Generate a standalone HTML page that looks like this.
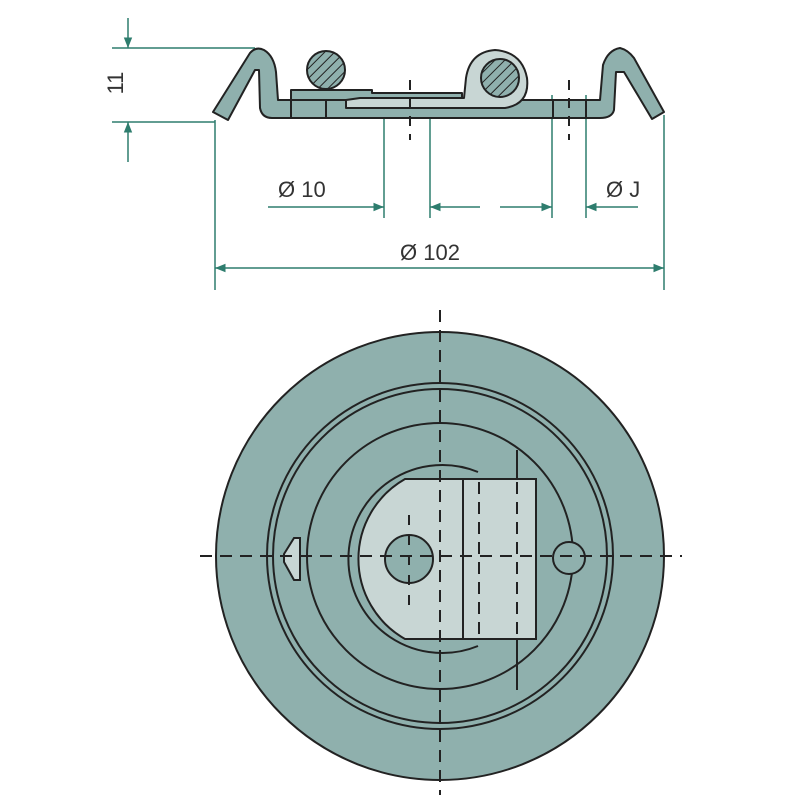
<!DOCTYPE html>
<html><head><meta charset="utf-8"><style>html,body{margin:0;padding:0;background:#fff}svg{display:block}</style></head>
<body>
<svg width="800" height="800" viewBox="0 0 800 800" xmlns="http://www.w3.org/2000/svg">
<defs>
<pattern id="h" width="7" height="7" patternUnits="userSpaceOnUse" patternTransform="rotate(45)">
<rect width="7" height="7" fill="#8fb0ad"/><line x1="0" y1="0" x2="0" y2="7" stroke="#222" stroke-width="2"/>
</pattern>
<marker id="a" viewBox="0 0 10 10" refX="10" refY="5" markerWidth="9" markerHeight="7" orient="auto-start-reverse"><path d="M0,1 L10,5 L0,9 Z" fill="#2e7d6e"/></marker>
</defs>
<g stroke="#2e7d6e" stroke-width="1.5" fill="none">
<line x1="128" y1="18" x2="128" y2="48" marker-end="url(#a)"/>
<line x1="128" y1="162" x2="128" y2="122" marker-end="url(#a)"/>
<line x1="112" y1="48" x2="255" y2="48"/>
<line x1="112" y1="122" x2="215" y2="122"/>
<line x1="384" y1="95" x2="384" y2="218"/><line x1="430" y1="95" x2="430" y2="218"/>
<line x1="268" y1="207" x2="384" y2="207" marker-end="url(#a)"/>
<line x1="480" y1="207" x2="430" y2="207" marker-end="url(#a)"/>
<line x1="552" y1="95" x2="552" y2="218"/><line x1="586" y1="95" x2="586" y2="218"/>
<line x1="500" y1="207" x2="552" y2="207" marker-end="url(#a)"/>
<line x1="638" y1="207" x2="586" y2="207" marker-end="url(#a)"/>
<line x1="215" y1="120" x2="215" y2="290"/><line x1="664" y1="115" x2="664" y2="290"/>
<line x1="215" y1="268" x2="664" y2="268" marker-start="url(#a)" marker-end="url(#a)"/>
</g>
<g font-family="Liberation Sans, sans-serif" font-size="22" fill="#333">
<text x="278" y="197">Ø 10</text>
<text x="606" y="197">Ø J</text>
<text x="400" y="260">Ø 102</text>
<text transform="translate(123,83) rotate(-90)" text-anchor="middle">11</text>
</g>
<g stroke="#222" stroke-width="2" stroke-linejoin="round">
<path d="M213,112 L250,53 Q256,46 264,50 Q274,56 276,72 L278,100 L600,100 L603,65 Q608,50 620,48 Q628,50 634,58 L664,112 L652,119 L624,72 L616,72 L614,110 Q612,118 600,118 L272,118 Q262,118 260,108 L259,70 L255,70 L228,120 Z" fill="#8fb0ad"/>
<path d="M291,100 L291,90 L372,90 L372,93 L462,93 L462,100 Z" fill="#8fb0ad"/>
<path d="M346,100 L346,108 L505,108 Q530,104 527,78 Q522,52 495,50 Q470,52 466,78 L464,98 L360,98 Z" fill="#c8d6d4"/>
<circle cx="326" cy="70" r="19" fill="url(#h)"/>
<circle cx="500" cy="78" r="19" fill="url(#h)"/>
<line x1="291" y1="100" x2="291" y2="118"/><line x1="326" y1="100" x2="326" y2="118"/>
<line x1="553" y1="100" x2="553" y2="118"/><line x1="586" y1="100" x2="586" y2="118"/>
</g>
<g stroke="#222" stroke-width="2" stroke-dasharray="10,8">
<line x1="410" y1="80" x2="410" y2="140"/><line x1="569" y1="80" x2="569" y2="140"/>
</g>
<g stroke="#222" stroke-width="2">
<circle cx="440" cy="556" r="224" fill="#8fb0ad"/>
<circle cx="440" cy="556" r="173" fill="none"/>
<circle cx="440" cy="556" r="167" fill="none"/>
<circle cx="440" cy="556" r="133" fill="none"/>
<path d="M478,472 A94,94 0 1 0 478,646" fill="none"/>
<path d="M405,479 L536,479 L536,639 L405,639 A92,92 0 0 1 405,479 Z" fill="#c8d6d4"/>
<line x1="463" y1="479" x2="463" y2="639"/>
<line x1="517" y1="450" x2="517" y2="479"/><line x1="517" y1="639" x2="517" y2="690"/>
<circle cx="409" cy="559" r="24" fill="#8fb0ad"/>
<circle cx="569" cy="558" r="16" fill="#8fb0ad"/>
<path d="M300,538 L300,580 L294,580 L284,562 L284,554 L294,538 Z" fill="#c8d6d4"/>
</g>
<g stroke="#222" stroke-width="2" stroke-dasharray="12,8">
<line x1="440" y1="310" x2="440" y2="795"/>
<line x1="200" y1="556" x2="682" y2="556"/>
<line x1="479" y1="482" x2="479" y2="636"/><line x1="517" y1="482" x2="517" y2="636"/>
<line x1="409" y1="515" x2="409" y2="605" stroke-dasharray="10,10"/>
</g>
</svg>
</body></html>
